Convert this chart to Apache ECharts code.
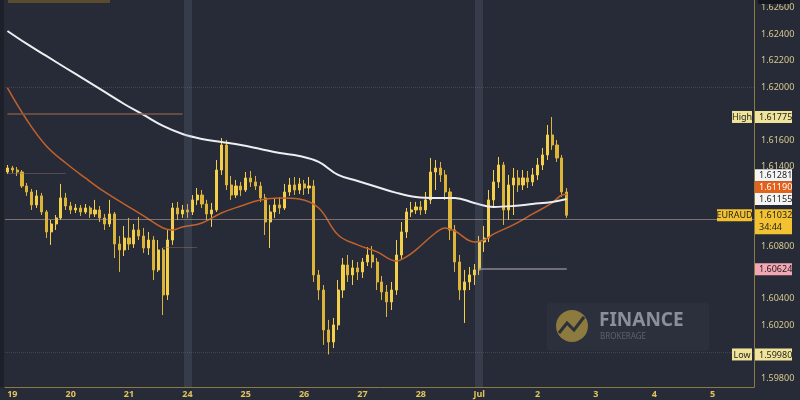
<!DOCTYPE html>
<html><head><meta charset="utf-8">
<script src="https://cdn.jsdelivr.net/npm/echarts@6/dist/echarts.min.js"></script>
<style>html,body{margin:0;padding:0;background:#272b37;}#c{width:800px;height:400px;}</style>
</head><body><div id="c"></div>
<script>
// ---- data ----
const dayNames = ['18','19','20','21','24','25','26','27','28','Jul','2','3','4','5','6'];
const axisDays = ['19','20','21','24','25','26','27','28','Jul','2','3','4','5'];
// 2-hour candles: [open, close, low, high]
const ohlc = [
[1.61359,1.61389,1.61344,1.61412],[1.61389,1.61374,1.61352,1.61405],[1.61374,1.61359,1.61329,1.61397],[1.61359,1.61253,1.61238,1.61374],
[1.61253,1.61208,1.61178,1.61276],[1.61208,1.61110,1.61072,1.61231],[1.61110,1.61178,1.61087,1.61223],[1.61178,1.61057,1.61034,1.61201],
[1.61057,1.60906,1.60860,1.61072],[1.60906,1.60966,1.60808,1.60996],[1.60966,1.61012,1.60921,1.61034],[1.61012,1.61163,1.60996,1.61269],
[1.61163,1.61102,1.61072,1.61201],[1.61102,1.61072,1.61042,1.61133],[1.61072,1.61087,1.61049,1.61117],[1.61087,1.61057,1.61027,1.61110],
[1.61057,1.61087,1.61042,1.61117],[1.61087,1.61042,1.61012,1.61102],[1.61042,1.61072,1.61019,1.61148],[1.61072,1.61012,1.60981,1.61102],
[1.61012,1.60966,1.60921,1.61042],[1.60966,1.61042,1.60944,1.61148],[1.61042,1.60815,1.60709,1.61057],[1.60815,1.60770,1.60604,1.60875],
[1.60770,1.60860,1.60724,1.60951],[1.60860,1.60815,1.60770,1.61012],[1.60815,1.60921,1.60785,1.60966],[1.60921,1.60875,1.60845,1.61019],
[1.60875,1.60785,1.60747,1.60936],[1.60785,1.60845,1.60732,1.60906],[1.60845,1.60619,1.60543,1.60875],[1.60619,1.60770,1.60604,1.60845],
[1.60770,1.60430,1.60278,1.60785],[1.60430,1.60845,1.60392,1.60921],[1.60845,1.61087,1.60808,1.61125],[1.61087,1.61042,1.60996,1.61133],
[1.61042,1.61072,1.61012,1.61110],[1.61072,1.61057,1.61012,1.61117],[1.61057,1.61148,1.61034,1.61185],[1.61148,1.61185,1.61110,1.61238],
[1.61185,1.61117,1.61087,1.61223],[1.61117,1.61042,1.60996,1.61148],[1.61042,1.61072,1.60944,1.61125],[1.61072,1.61374,1.61057,1.61450],
[1.61374,1.61563,1.61337,1.61616],[1.61563,1.61261,1.61223,1.61601],[1.61261,1.61185,1.61148,1.61329],[1.61185,1.61253,1.61163,1.61299],
[1.61253,1.61223,1.61178,1.61284],[1.61223,1.61314,1.61208,1.61359],[1.61314,1.61284,1.61246,1.61367],[1.61284,1.61253,1.61223,1.61329],
[1.61253,1.61163,1.61133,1.61284],[1.61163,1.60981,1.60883,1.61193],[1.60981,1.61057,1.60785,1.61110],[1.61057,1.61110,1.61012,1.61163],
[1.61110,1.61087,1.61042,1.61170],[1.61087,1.61208,1.61072,1.61269],[1.61208,1.61261,1.61178,1.61314],[1.61261,1.61223,1.61185,1.61321],
[1.61223,1.61269,1.61193,1.61314],[1.61269,1.61238,1.61185,1.61299],[1.61238,1.61253,1.61193,1.61321],[1.61253,1.60581,1.60528,1.61299],
[1.60581,1.60467,1.60392,1.60619],[1.60467,1.60165,1.60052,1.60505],[1.60165,1.60074,1.59980,1.60241],[1.60074,1.60203,1.60029,1.60256],
[1.60203,1.60467,1.60165,1.60543],[1.60467,1.60656,1.60407,1.60709],[1.60656,1.60581,1.60528,1.60732],[1.60581,1.60634,1.60505,1.60694],
[1.60634,1.60604,1.60543,1.60679],[1.60604,1.60679,1.60558,1.60709],[1.60679,1.60732,1.60648,1.60792],[1.60732,1.60679,1.60634,1.60800],
[1.60679,1.60528,1.60467,1.60709],[1.60528,1.60452,1.60392,1.60573],[1.60452,1.60377,1.60263,1.60505],[1.60377,1.60467,1.60316,1.60528],
[1.60467,1.60732,1.60430,1.60845],[1.60732,1.60906,1.60694,1.60981],[1.60906,1.61057,1.60860,1.61087],[1.61057,1.61072,1.61019,1.61133],
[1.61072,1.61095,1.61042,1.61133],[1.61095,1.61072,1.61034,1.61140],[1.61072,1.61148,1.61042,1.61208],[1.61148,1.61359,1.61117,1.61465],
[1.61359,1.61389,1.61223,1.61450],[1.61389,1.61337,1.61284,1.61435],[1.61337,1.61208,1.61148,1.61374],[1.61208,1.60921,1.60845,1.61238],
[1.60921,1.60679,1.60604,1.60959],[1.60679,1.60467,1.60392,1.60732],[1.60467,1.60528,1.60218,1.60619],[1.60528,1.60581,1.60467,1.60641],
[1.60581,1.60619,1.60505,1.60664],[1.60619,1.60830,1.60581,1.60875],[1.60830,1.60860,1.60755,1.60951],[1.60860,1.61148,1.60830,1.61223],
[1.61148,1.61284,1.61102,1.61374],[1.61284,1.61412,1.61238,1.61473],[1.61412,1.61072,1.60959,1.61435],[1.61072,1.61261,1.60996,1.61337],
[1.61261,1.61314,1.61034,1.61389],[1.61314,1.61261,1.61208,1.61374],[1.61261,1.61314,1.61223,1.61374],[1.61314,1.61284,1.61238,1.61367],
[1.61284,1.61337,1.61253,1.61389],[1.61337,1.61412,1.61299,1.61465],[1.61412,1.61488,1.61374,1.61541],[1.61488,1.61639,1.61450,1.61714],
[1.61639,1.61563,1.61526,1.61775],[1.61563,1.61465,1.61435,1.61601],[1.61465,1.61208,1.61170,1.61488],[1.61208,1.61032,1.61012,1.61238]
];
// moving averages read at candle indices (k = -1 is first candle)
const maWhiteAt = [-1,3,7,11,15,19,23,27,31,35,39,43,47,51,55,59,63,67,71,75,79,83,87,91,95,99,103,107,111,114];
const maWhite   = [1.62425,1.62327,1.62236,1.62145,1.62055,1.61964,1.61873,1.61790,1.61707,1.61646,1.61609,1.61586,1.61563,1.61533,1.61503,1.61480,1.61435,1.61337,1.61291,1.61246,1.61201,1.61170,1.61163,1.61163,1.61125,1.61095,1.61102,1.61117,1.61133,1.61155];
const maOrangeAt = [-1,3,7,11,15,19,23,27,31,33,35,39,43,47,51,55,59,63,67,71,75,79,81,83,87,89,91,95,97,99,103,107,111,113,114];
const maOrange   = [1.61994,1.61752,1.61556,1.61427,1.61314,1.61208,1.61117,1.61027,1.60936,1.60921,1.60944,1.60974,1.61049,1.61102,1.61148,1.61163,1.61155,1.61087,1.60883,1.60808,1.60755,1.60686,1.60717,1.60770,1.60898,1.60936,1.60913,1.60830,1.60845,1.60891,1.60959,1.61042,1.61125,1.61185,1.61190];
const yTickLabels = [1.598,1.602,1.604,1.608,1.614,1.616,1.620,1.622,1.624,1.626];
// right-axis price tags
const tagValues = [1.61775,1.61281,1.61190,1.61155,1.61032,1.60624,1.59980];
const tagNames  = ['High','','','','EURAUD','','Low'];
const tagSub    = ['','','','','34:44','',''];
// horizontal levels
const fullLevels = [1.61032,1.61775,1.59980];
const segLevels = [1.61801,1.61352,1.60792,1.60624];
const segFrom = [-1,-1,31,96];
const segTo = [35,11,38,114];
const weekMarks = [36,96];

// ---- build ----
const N = 154;
const categories = [];
for (let k = -1; k < N - 1; k++) {
  const di = Math.floor(k / 12) + 1;
  const hr = ((k % 12) + 12) % 12 * 2;
  categories.push(dayNames[di] + ' ' + (hr < 10 ? '0' + hr : hr) + ':00');
}
const idx = k => k + 1;

const tagStyle = [
  {bg:'#efe49a', fg:'#1e1e1e', dy:0},
  {bg:'#f4f4f4', fg:'#1e1e1e', dy:-7},
  {bg:'#e2621c', fg:'#ffffff', dy:-7},
  {bg:'#f4f4f4', fg:'#1e1e1e', dy:0},
  {bg:'#f2c232', fg:'#1e1e1e', dy:0},
  {bg:'#f3a6b4', fg:'#1e1e1e', dy:0},
  {bg:'#efe49a', fg:'#1e1e1e', dy:0}
];
const FONT = '"Noto Sans", "DejaVu Sans", sans-serif';

function renderTag(params, api) {
  const i = params.dataIndex;
  const cs = params.coordSys;
  const st = tagStyle[i];
  const yc = api.coord([0, api.value(1)])[1] + st.dy;
  const ax = cs.x + cs.width;
  const ch = [];
  const h = tagSub[i] ? 25 : 12;
  ch.push({type:'rect', shape:{x: ax + 1, y: yc - 6, width: 37, height: h}, style:{fill: st.bg}});
  ch.push({type:'text', style:{text: tagValues[i].toFixed(5), x: ax + 5, y: yc + 0.5, fill: st.fg, fontSize: 9, fontFamily: FONT, align:'left', verticalAlign:'middle'}});
  if (tagSub[i]) ch.push({type:'text', style:{text: tagSub[i], x: ax + 5, y: yc + 12.5, fill: st.fg, fontSize: 9, fontFamily: FONT, align:'left', verticalAlign:'middle'}});
  if (tagNames[i]) {
    const w = tagNames[i].length > 4 ? 35 : 20;
    ch.push({type:'rect', shape:{x: ax - 2 - w, y: yc - 6, width: w, height: 12}, style:{fill: st.bg}});
    ch.push({type:'text', style:{text: tagNames[i], x: ax - 2 - w / 2, y: yc + 0.5, fill: st.fg, fontSize: 9, fontFamily: FONT, align:'center', verticalAlign:'middle'}});
  }
  return {type:'group', children: ch};
}

const chart = echarts.init(document.getElementById('c'), null, {renderer:'canvas'});
chart.setOption({
  backgroundColor: '#272b37',
  animation: false,
  grid: {left: 5, right: 46, top: 0, bottom: 13},
  xAxis: {
    type: 'category', data: categories, boundaryGap: true,
    axisLine: {lineStyle: {color: '#8a7a45', width: 1}},
    axisTick: {show: false},
    splitLine: {show: false},
    axisLabel: {
      interval: (i, v) => v.endsWith(' 00:00') && axisDays.indexOf(v.split(' ')[0]) >= 0,
      formatter: v => v.split(' ')[0],
      color: '#e2c45e', fontSize: 9, fontWeight: 'bold', fontFamily: FONT, margin: 3
    }
  },
  yAxis: {
    type: 'value', position: 'right', min: 1.59734, max: 1.62659, scale: true,
    axisLine: {show: true, lineStyle: {color: '#8a7a45', width: 1}},
    axisTick: {show: false},
    splitLine: {show: false},
    axisLabel: {customValues: yTickLabels, formatter: v => v.toFixed(5), color: '#d8c98e', fontSize: 9, fontFamily: FONT, margin: 7}
  },
  graphic: [
    {type:'rect', left: 0, top: 0, shape:{width: 4, height: 387}, style:{fill:'#1d2029'}, z: 0},
    {type:'rect', left: 8, top: 0, shape:{width: 102, height: 3}, style:{fill:'#5a4c2c'}, z: 5},
    {type:'rect', left: 758, top: 0, shape:{width: 32, height: 4}, style:{fill:'#15171e'}, z: 20},
    {type:'group', left: 547, top: 303, z: 1, children: [
      {type:'rect', shape:{x:0, y:0, width:162, height:48, r:3}, style:{fill:'#2c303c'}},
      {type:'circle', shape:{cx:25, cy:23, r:16}, style:{fill:'#8c7a3e'}},
      {type:'polyline', shape:{points:[[12,30],[20,20],[27,27],[37,14]]}, style:{stroke:'#2c303c', lineWidth:3, fill:null}},
      {type:'text', style:{text:'FINANCE', x:52, y:8, fill:'#8a8f9b', fontSize:19, fontWeight:'bold', fontFamily:FONT}},
      {type:'text', style:{text:'BROKERAGE', x:53, y:30, fill:'#5d6270', fontSize:8, fontFamily:FONT}}
    ]}
  ],
  series: [
    {
      type: 'candlestick', data: ohlc, barWidth: 2.6,
      itemStyle: {color:'#f4d04a', color0:'#dcb437', borderColor:'#f4d04a', borderColor0:'#dcb437', borderWidth: 1},
      markLine: {
        silent: true, symbol: 'none', label: {show: false},
        data: [
          {yAxis: fullLevels[0], lineStyle: {color:'rgba(200,170,160,0.55)', width: 1, type:'solid'}},
          {yAxis: fullLevels[1], lineStyle: {color:'rgba(200,190,150,0.18)', width: 1, type:'dotted'}},
          {yAxis: fullLevels[2], lineStyle: {color:'rgba(200,190,150,0.18)', width: 1, type:'dotted'}},
          ...segLevels.map((v, i) => [
            {coord: [idx(segFrom[i]), v], lineStyle: {color: ['#7d5848','rgba(150,110,100,0.45)','rgba(150,110,100,0.45)','#8a8690'][i], width: i === 0 || i === 3 ? 1.5 : 1, type:'solid'}},
            {coord: [idx(segTo[i]), v]}
          ])
        ]
      }
    },
    {
      type: 'line', data: [], silent: true,
      markLine: {
        silent: true, symbol: 'none', label: {show: false},
        data: weekMarks.map(k => ({xAxis: idx(k), lineStyle: {color:'rgba(140,150,175,0.16)', width: 8, type:'solid'}}))
      }
    },
    {
      type: 'line', data: maOrangeAt.map((k, i) => [idx(k), maOrange[i]]), smooth: 0.4, showSymbol: false,
      lineStyle: {color:'#c2612a', width: 1.5}, z: 3
    },
    {
      type: 'line', data: maWhiteAt.map((k, i) => [idx(k), maWhite[i]]), smooth: 0.4, showSymbol: false,
      lineStyle: {color:'#eceef2', width: 2}, z: 4
    },
    {
      type: 'custom', renderItem: renderTag, clip: false, z: 10,
      encode: {x: 0, y: 1},
      data: tagValues.map(v => [0, v])
    }
  ]
});
</script></body></html>
